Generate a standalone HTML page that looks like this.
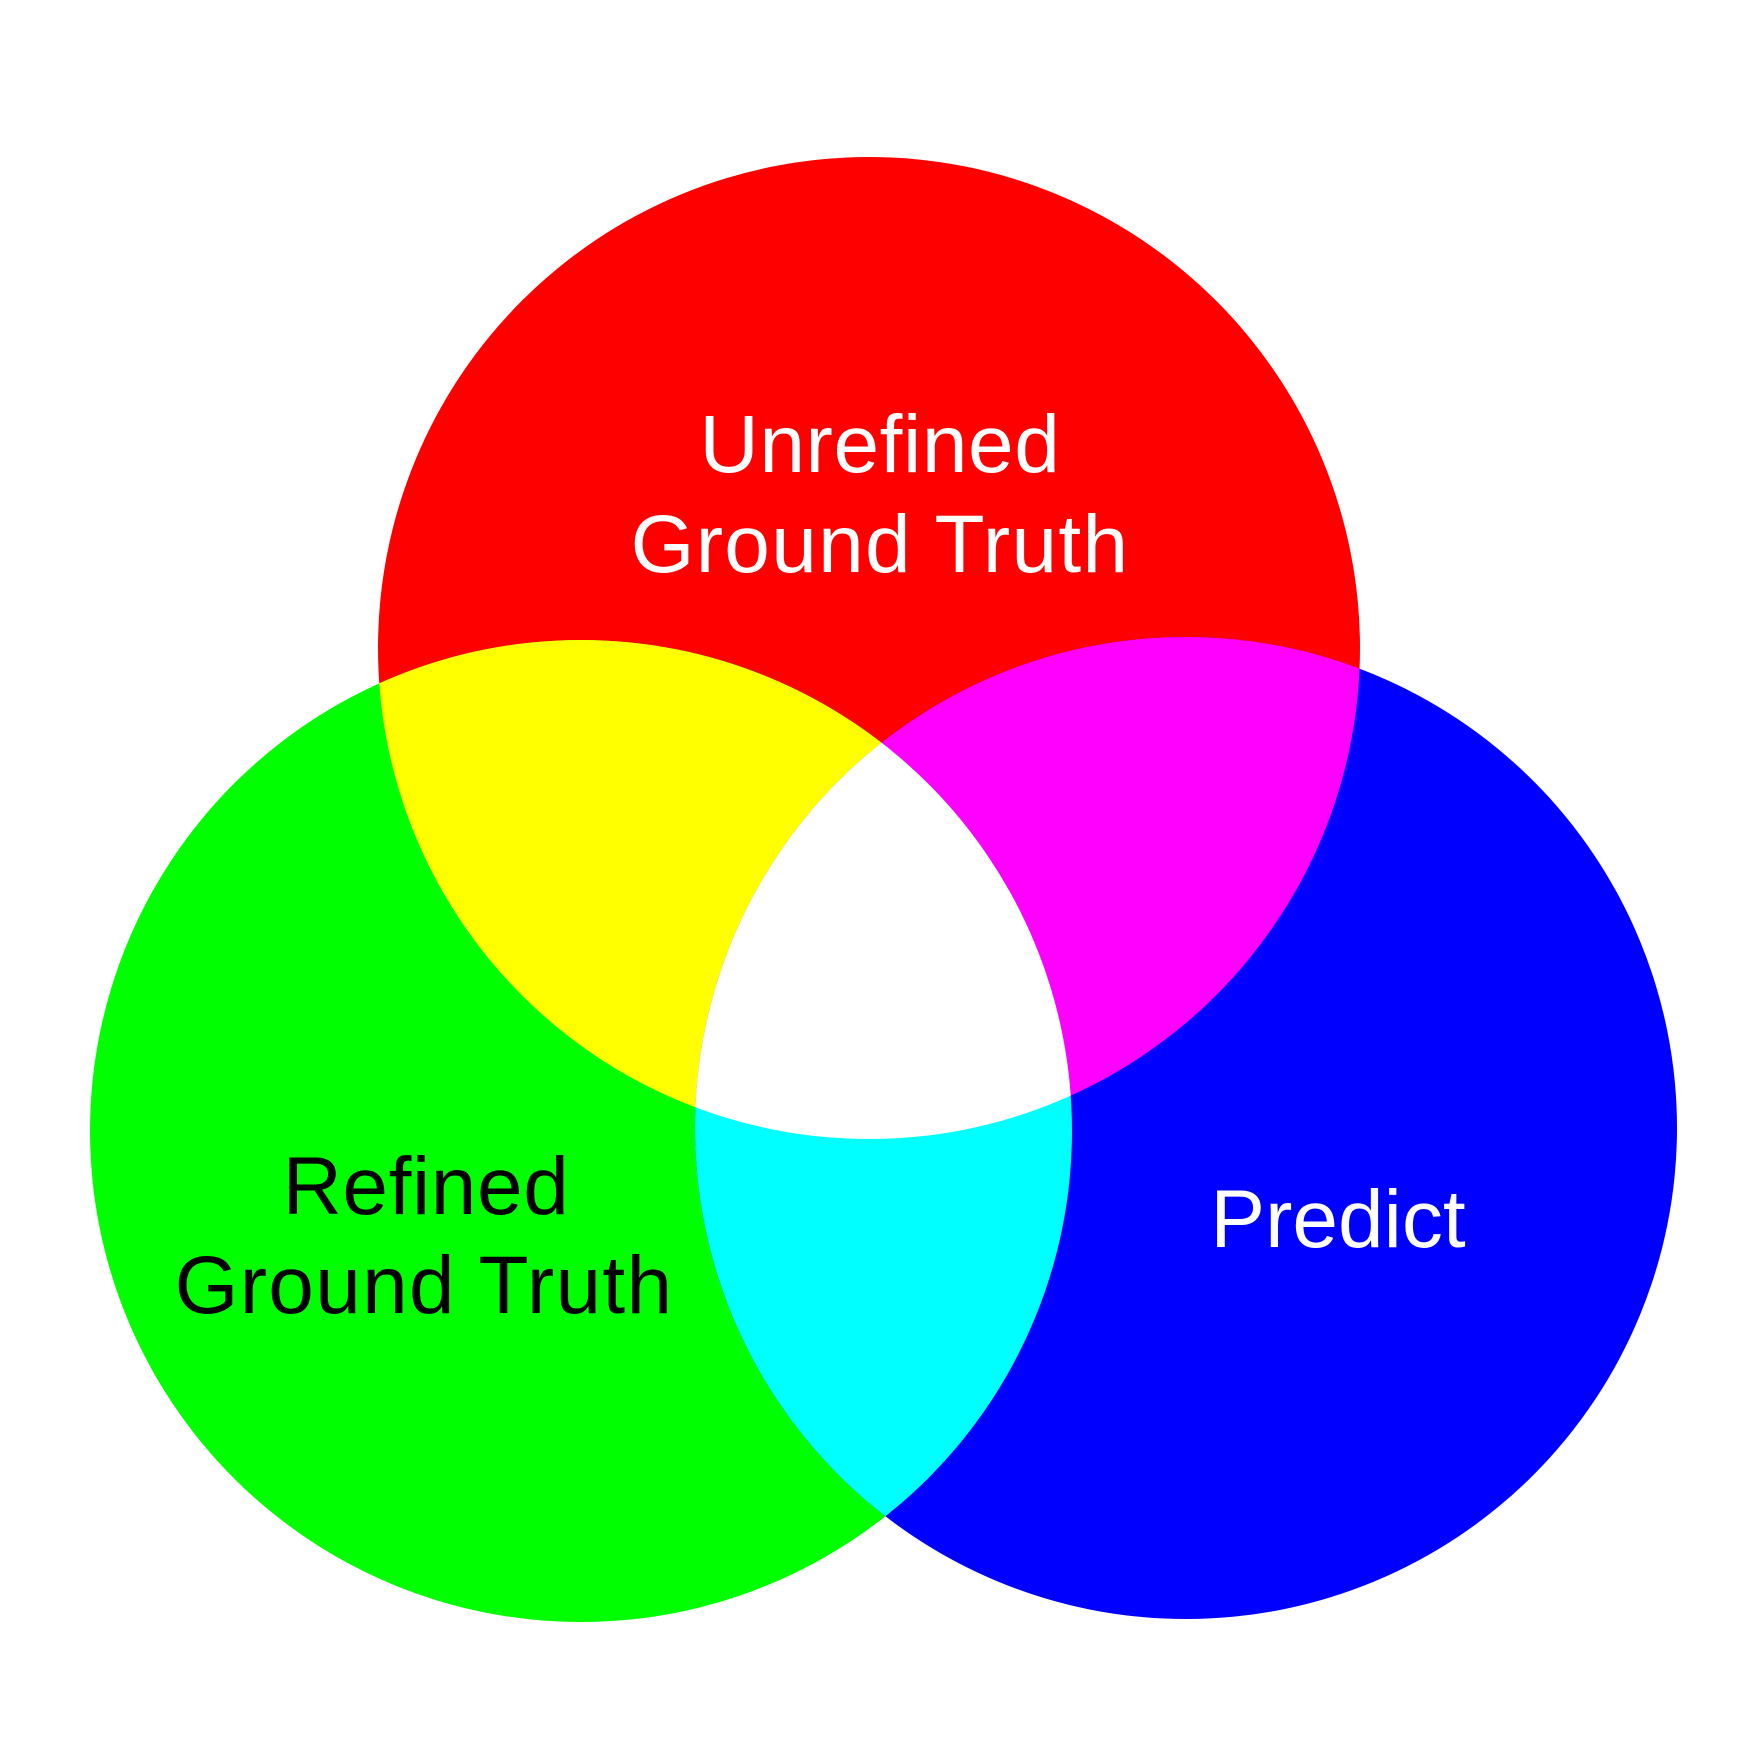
<!DOCTYPE html>
<html>
<head>
<meta charset="utf-8">
<style>
  html, body { margin:0; padding:0; background:#ffffff; }
  svg { display:block; }
  text { font-family: "Liberation Sans", "DejaVu Sans", sans-serif; }
</style>
</head>
<body>
<svg width="1760" height="1760" viewBox="0 0 1760 1760" xmlns="http://www.w3.org/2000/svg">
  <defs>
    <clipPath id="cr"><circle cx="869" cy="648" r="491"/></clipPath>
    <clipPath id="cg"><circle cx="581" cy="1131" r="491"/></clipPath>
    <clipPath id="cb"><circle cx="1186" cy="1128" r="491"/></clipPath>
  </defs>
  <rect x="0" y="0" width="1760" height="1760" fill="#ffffff"/>
  <circle cx="869" cy="648" r="491" fill="#ff0000"/>
  <circle cx="581" cy="1131" r="491" fill="#00ff00"/>
  <circle cx="1186" cy="1128" r="491" fill="#0000ff"/>
  <g clip-path="url(#cr)">
    <circle cx="581" cy="1131" r="491" fill="#ffff00"/>
    <circle cx="1186" cy="1128" r="491" fill="#ff00ff"/>
  </g>
  <g clip-path="url(#cg)">
    <circle cx="1186" cy="1128" r="491" fill="#00ffff"/>
  </g>
  <g clip-path="url(#cr)">
    <g clip-path="url(#cg)">
      <circle cx="1186" cy="1128" r="491" fill="#ffffff"/>
    </g>
  </g>
  <text x="880" y="472" font-size="82" fill="#ffffff" text-anchor="middle" letter-spacing="0.6">Unrefined</text>
  <text x="880" y="572" font-size="82" fill="#ffffff" text-anchor="middle" letter-spacing="1.3">Ground Truth</text>
  <text x="426" y="1214" font-size="82" fill="#000000" text-anchor="middle" letter-spacing="0.6">Refined</text>
  <text x="424" y="1313" font-size="82" fill="#000000" text-anchor="middle" letter-spacing="1.3">Ground Truth</text>
  <text x="1338" y="1247" font-size="82" fill="#ffffff" text-anchor="middle">Predict</text>
</svg>
</body>
</html>
